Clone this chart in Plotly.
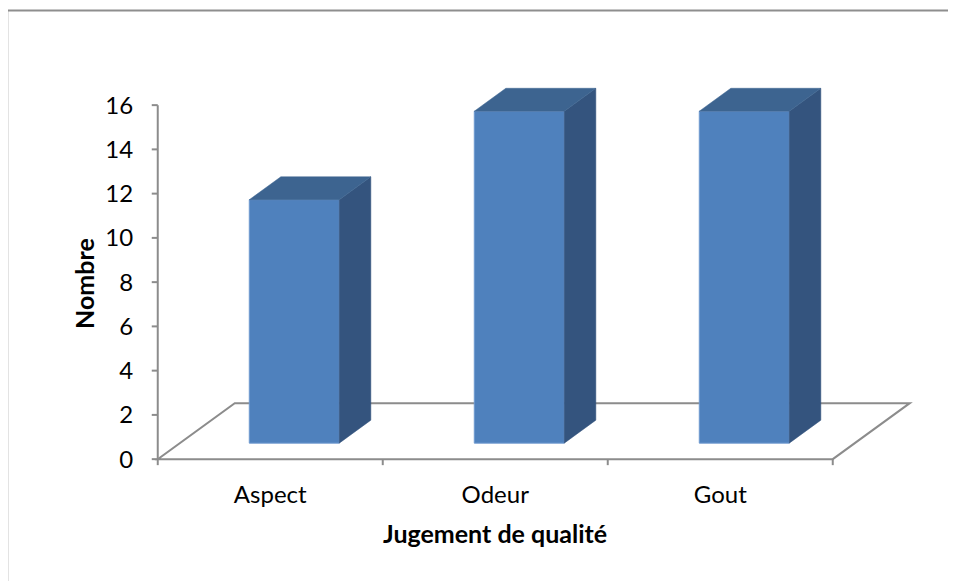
import plotly.graph_objects as go

categories = ["Aspect", "Odeur", "Gout"]
values = [11, 15, 15]
y_ticks = [0, 2, 4, 6, 8, 10, 12, 14, 16]

OFF = 8                       # default page body margin in the browser
W, H = 956 - OFF, 581 - OFF   # figure size so that it fits the window
X0, X1 = -0.53, 2.87
Y0, Y1 = -0.4, 17.0
PX_X = 225.0       # px per x unit
PX_Y = 22.125      # px per y unit
ORIGIN_PX = (158.0 - OFF, 459.0 - OFF)   # pixel of data (-0.5, 0)

l = ORIGIN_PX[0] - (-0.5 - X0) * PX_X
plot_w = (X1 - X0) * PX_X
r = W - l - plot_w
b = H - (ORIGIN_PX[1] + (0 - Y0) * PX_Y)
plot_h = (Y1 - Y0) * PX_Y
t = H - b - plot_h


def px_to_paper(px, py):
    return (px - OFF - l) / plot_w, 1 - (py - OFF - t) / plot_h


DX, DY = 77 / PX_X, 56 / PX_Y   # floor depth offset in data units
F0, F1 = 0.286, 0.696           # bar depth (front, back) as fraction of floor depth
BW = 0.4
SHIFT = 2 / PX_X                # small horizontal nudge of the bars

FRONT = "#4F81BD"
SIDE = "#34547E"
TOP = "#3D6490"
AX = "#8C8C8C"
FONT = "Lato"

fig = go.Figure()

xs = list(range(len(categories)))
fig.add_trace(go.Bar(
    x=[i + SHIFT + F0 * DX for i in xs], y=values, base=[F0 * DY] * len(xs), width=BW,
    marker=dict(color=FRONT, line=dict(color="#6F9AD0", width=1)),
    showlegend=False, hoverinfo="skip"))

for i, v in zip(xs, values):
    xl, xr = i + SHIFT - BW / 2, i + SHIFT + BW / 2
    b0, b1 = F0 * DY, F1 * DY
    # side face
    fig.add_trace(go.Scatter(
        x=[xr + F0 * DX, xr + F1 * DX, xr + F1 * DX, xr + F0 * DX, xr + F0 * DX],
        y=[b0, b1, b1 + v, b0 + v, b0],
        fill="toself", fillcolor=SIDE, mode="lines", line=dict(color=SIDE, width=0.5),
        showlegend=False, hoverinfo="skip"))
    # top face
    fig.add_trace(go.Scatter(
        x=[xl + F0 * DX, xr + F0 * DX, xr + F1 * DX, xl + F1 * DX, xl + F0 * DX],
        y=[b0 + v, b0 + v, b1 + v, b1 + v, b0 + v],
        fill="toself", fillcolor=TOP, mode="lines", line=dict(color=TOP, width=0.5),
        showlegend=False, hoverinfo="skip"))

n = len(categories)
# floor outline
floor_path = (f"M {-0.5},0 L {n - 0.5},0 L {n - 0.5 + DX},{DY} "
              f"L {-0.5 + DX},{DY} Z")
fig.add_shape(type="path", path=floor_path, xref="x", yref="y",
              line=dict(color=AX, width=2), layer="below")
# value axis line
fig.add_shape(type="line", x0=-0.5, x1=-0.5, y0=0, y1=y_ticks[-1], xref="x", yref="y",
              line=dict(color=AX, width=2), layer="below")
for tv in y_ticks:
    fig.add_shape(type="line", x0=-0.5 - 6 / PX_X, x1=-0.5, y0=tv, y1=tv,
                  xref="x", yref="y", line=dict(color=AX, width=2), layer="below")
for k in range(n + 1):
    fig.add_shape(type="line", x0=k - 0.5, x1=k - 0.5, y0=0, y1=-6 / PX_Y,
                  xref="x", yref="y", line=dict(color=AX, width=2), layer="below")

# outer chart border
bx0, by1 = px_to_paper(7.5, 10.5)
bx1, by0 = px_to_paper(1000, 640)
fig.add_shape(type="rect", xref="paper", yref="paper",
              x0=bx0, x1=bx1, y0=by0, y1=by1,
              line=dict(color="#8E8E8E", width=2))

fig.update_xaxes(range=[X0, X1], tickvals=xs, ticktext=categories,
                 showgrid=False, zeroline=False, showline=False,
                 ticks="outside", ticklen=5, tickcolor="rgba(0,0,0,0)",
                 tickfont=dict(family=FONT, size=24, color="#000000"))
fig.update_yaxes(range=[Y0, Y1], tickvals=y_ticks,
                 showgrid=False, zeroline=False, showline=False,
                 ticks="outside", ticklen=12, tickcolor="rgba(0,0,0,0)",
                 tickfont=dict(family=FONT, size=24, color="#000000"))

ax_, ay_ = px_to_paper(84, 283)
fig.add_annotation(text="<b>Nombre</b>", textangle=-90, xref="paper", yref="paper",
                   x=ax_, y=ay_, xanchor="center", yanchor="middle",
                   showarrow=False, font=dict(family=FONT, size=25, color="#000000"))
tx_, ty_ = px_to_paper(495, 533)
fig.add_annotation(text="<b>Jugement de qualité</b>", xref="paper", yref="paper",
                   x=tx_, y=ty_, xanchor="center", yanchor="middle",
                   showarrow=False, font=dict(family=FONT, size=25, color="#000000"))

fig.update_layout(width=W, height=H, margin=dict(l=l, r=r, t=t, b=b),
                  plot_bgcolor="white", paper_bgcolor="white", showlegend=False)

fig.write_html("out.html")
